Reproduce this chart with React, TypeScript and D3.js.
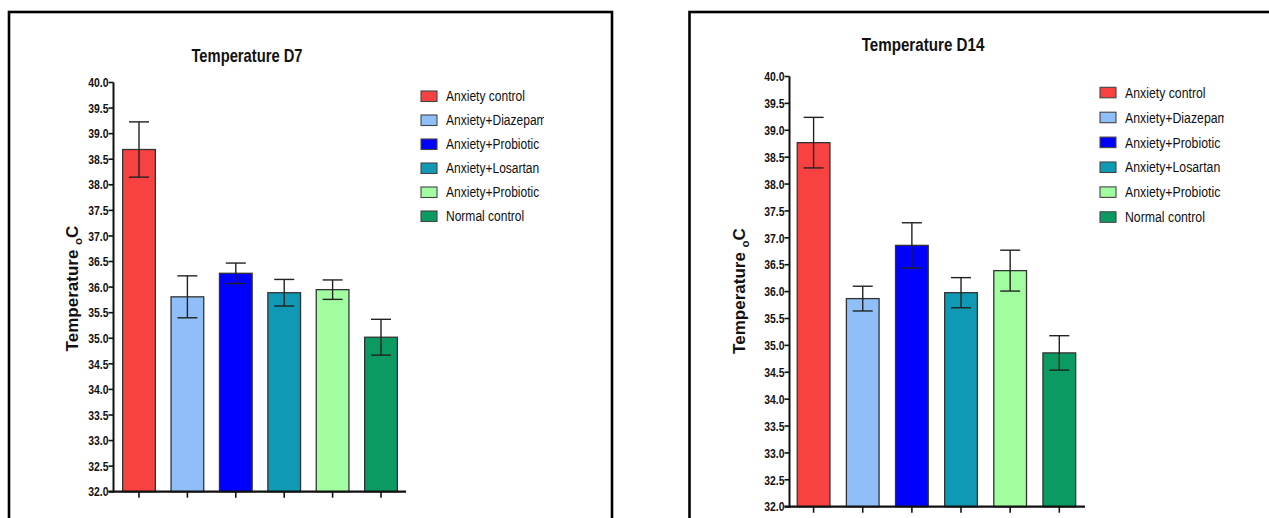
import React from "react";
import * as d3 from "d3";

const categories = [
  "Anxiety control",
  "Anxiety+Diazepam",
  "Anxiety+Probiotic",
  "Anxiety+Losartan",
  "Anxiety+Probiotic ",
  "Normal control",
];
const colors = ["#F84141", "#8FBEF8", "#0000FF", "#0F99B4", "#A0FEA0", "#0A9A62"];
const yTicks = [32.0, 32.5, 33.0, 33.5, 34.0, 34.5, 35.0, 35.5, 36.0, 36.5, 37.0, 37.5, 38.0, 38.5, 39.0, 39.5, 40.0];

const d7Means = [38.69, 35.81, 36.27, 35.89, 35.95, 35.02];
const d7Sem = [0.54, 0.41, 0.2, 0.26, 0.19, 0.35];
const d14Means = [38.77, 35.87, 36.86, 35.98, 36.39, 34.86];
const d14Sem = [0.47, 0.23, 0.42, 0.28, 0.38, 0.32];

const FONT = "'Liberation Sans', Arial, sans-serif";

function CText(props: {
  x: number; y: number; sx: number; size: number; bold?: boolean; anchor?: string; dy?: string;
  clip?: string; children: React.ReactNode;
}) {
  return (
    <g clipPath={props.clip}>
      <text transform={`translate(${props.x},${props.y}) scale(${props.sx},1)`} textAnchor={props.anchor || "start"}
        dy={props.dy} fontFamily={FONT} fontWeight={props.bold ? "bold" : "normal"} fontSize={props.size} fill="#111">
        {props.children}
      </text>
    </g>
  );
}

type PanelProps = {
  id: string;
  title: string;
  means: number[];
  sems: number[];
  frame: [number, number, number, number];
  axisX: number;
  axisEnd: number;
  yTop: number;
  yBottom: number;
  firstCenter: number;
  lastCenter: number;
  barW: number;
  titleX: number;
  titleY: number;
  titleSize: number;
  yTitleX: number;
  yTitleY: number;
  legendX: number;
  legendY: number;
  legendStep: number;
  legendSize: number;
  legendSx: number;
  legendClip: number;
  tickSize: number;
};

function Panel(p: PanelProps) {
  const y = d3.scaleLinear().domain([32, 40]).range([p.yBottom, p.yTop]);
  const x = d3.scalePoint<string>().domain(categories).range([p.firstCenter, p.lastCenter]);
  const stroke = "#111";
  return (
    <g>
      <rect x={p.frame[0]} y={p.frame[1]} width={p.frame[2]} height={p.frame[3]} fill="none" stroke="#000" strokeWidth={2.6} />
      <CText x={p.titleX} y={p.titleY} sx={0.82} size={p.titleSize} bold anchor="middle">{p.title}</CText>
      {/* bars */}
      {categories.map((c, i) => {
        const cx = x(c)!;
        const top = y(p.means[i]);
        return (
          <rect key={"b" + i} x={cx - p.barW / 2} y={top} width={p.barW} height={y(32) - top}
            fill={colors[i]} stroke="#333" strokeWidth={1.3} />
        );
      })}
      {/* error bars */}
      {categories.map((c, i) => {
        const cx = x(c)!;
        const hi = y(p.means[i] + p.sems[i]);
        const lo = y(p.means[i] - p.sems[i]);
        return (
          <g key={"e" + i} stroke="#222" strokeWidth={1.4}>
            <line x1={cx} x2={cx} y1={hi} y2={lo} />
            <line x1={cx - 10} x2={cx + 10} y1={hi} y2={hi} />
            <line x1={cx - 10} x2={cx + 10} y1={lo} y2={lo} />
          </g>
        );
      })}
      {/* y axis */}
      <line x1={p.axisX} x2={p.axisX} y1={p.yTop} y2={p.yBottom + 1} stroke={stroke} strokeWidth={2} />
      {yTicks.map((t) => (
        <g key={"t" + t}>
          <line x1={p.axisX - 5} x2={p.axisX} y1={y(t)} y2={y(t)} stroke={stroke} strokeWidth={1.6} />
          <CText x={p.axisX - 5} y={y(t)} dy="0.36em" anchor="end" sx={0.8} size={p.tickSize} bold>
            {d3.format(".1f")(t)}
          </CText>
        </g>
      ))}
      {/* x axis */}
      <line x1={p.axisX - 5} x2={p.axisEnd} y1={y(32)} y2={y(32)} stroke={stroke} strokeWidth={2.2} />
      {categories.map((c, i) => (
        <line key={"x" + i} x1={x(c)!} x2={x(c)!} y1={y(32)} y2={y(32) + 6} stroke={stroke} strokeWidth={1.6} />
      ))}
      {/* y title */}
      <text transform={`translate(${p.yTitleX},${p.yTitleY}) rotate(-90)`} textAnchor="middle"
        fontFamily={FONT} fontWeight="bold" fontSize={17} fill="#111">
        <tspan>Temperature </tspan>
        <tspan fontSize={11.5} dy={4}>o</tspan>
        <tspan dy={-4}>C</tspan>
      </text>
      {/* legend */}
      <clipPath id={"clip" + p.id}>
        <rect x={p.legendX} y={p.legendY - 20} width={p.legendClip - p.legendX} height={200} />
      </clipPath>
      {categories.map((c, i) => {
        const cy = p.legendY + i * p.legendStep;
        return (
          <g key={"l" + i}>
            <rect x={p.legendX - 25} y={cy - 5} width={16} height={10.5} fill={colors[i]} stroke="#444" strokeWidth={1.1} />
            <CText x={p.legendX} y={cy} dy="0.36em" sx={p.legendSx} size={p.legendSize} clip={`url(#clip${p.id})`}>
              {c.trim()}
            </CText>
          </g>
        );
      })}
    </g>
  );
}

export default function App() {
  return (
    <svg width={1269} height={518} style={{ position: "absolute", left: 0, top: 0, background: "#fff" }}>
      <rect width={1269} height={518} fill="#fff" />
      <Panel id="a" title="Temperature D7" means={d7Means} sems={d7Sem}
        frame={[9, 12, 603, 530]} axisX={113.5} axisEnd={406} yTop={82.5} yBottom={491.7}
        firstCenter={139} lastCenter={381} barW={32.7}
        titleX={247} titleY={62} titleSize={18}
        yTitleX={78} yTitleY={288.5}
        legendX={446} legendY={96} legendStep={24} legendSize={14.5} legendSx={0.83} legendClip={544}
        tickSize={13} />
      <Panel id="b" title="Temperature D14" means={d14Means} sems={d14Sem}
        frame={[689.5, 12, 620, 530]} axisX={789.5} axisEnd={1085} yTop={76.5} yBottom={506.7}
        firstCenter={813.6} lastCenter={1059.3} barW={32.7}
        titleX={923} titleY={51} titleSize={18.5}
        yTitleX={744.5} yTitleY={291}
        legendX={1125} legendY={92.3} legendStep={24.9} legendSize={15} legendSx={0.82} legendClip={1224}
        tickSize={13} />
    </svg>
  );
}
